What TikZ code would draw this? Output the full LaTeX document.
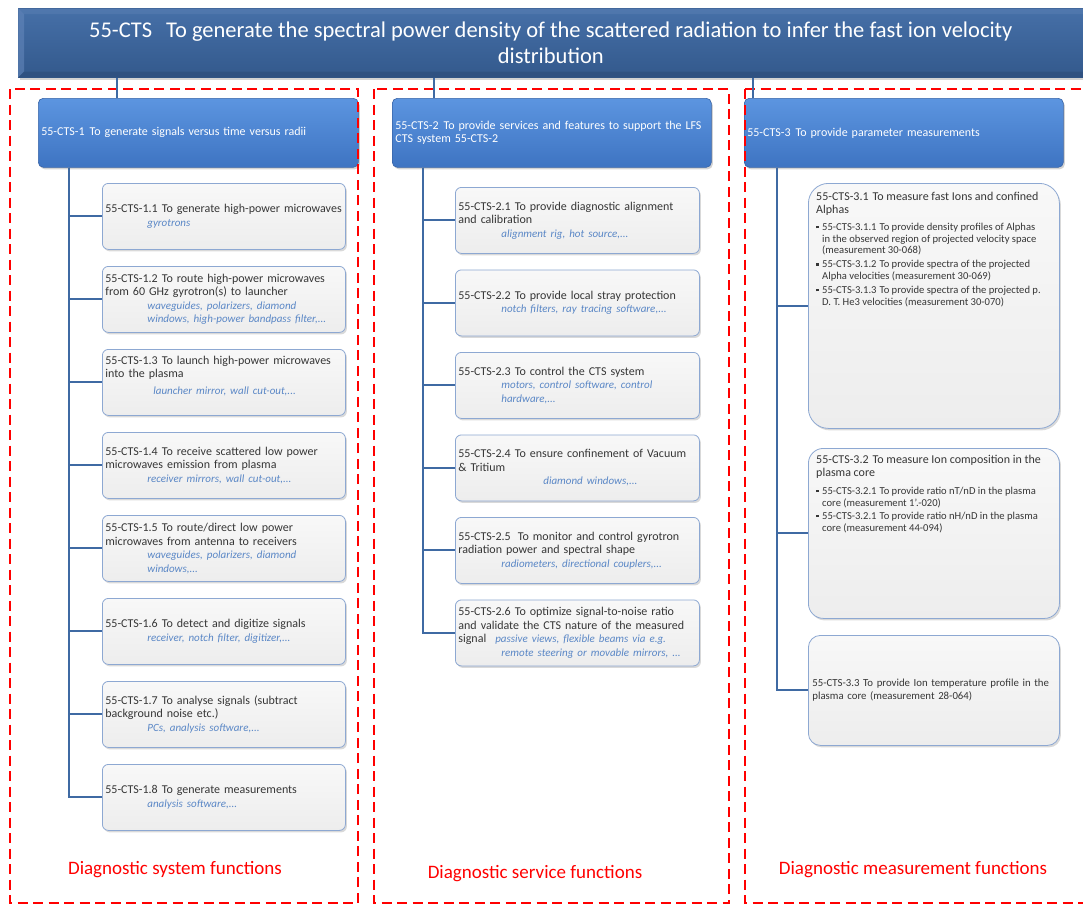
\documentclass[tikz,border=0pt]{standalone}
\usepackage{fontspec}
\setmainfont{Carlito}
\usetikzlibrary{shadows}

\definecolor{hdrtop}{HTML}{4670A8}
\definecolor{hdrbot}{HTML}{33598C}
\definecolor{bevlight}{HTML}{6386BA}
\definecolor{bevdark}{HTML}{2C4A76}
\definecolor{lvtop}{HTML}{5C95E0}
\definecolor{lvbot}{HTML}{3E74C2}
\definecolor{lvedge}{HTML}{3763A6}
\definecolor{chedge}{HTML}{8DA8D2}
\definecolor{chtop}{HTML}{F8F8F8}
\definecolor{chbot}{HTML}{EDEDED}
\definecolor{bodytxt}{HTML}{363636}
\definecolor{itblue}{HTML}{5A87C6}
\definecolor{linkblue}{HTML}{3F6AA3}
\definecolor{zonered}{HTML}{FF0000}

% equipment examples, set in blue italics
\newcommand\equip[1]{{\color{itblue}\fontsize{11}{13.5}\selectfont\itshape #1}}
\newcommand\sqb{\makebox[6pt][l]{\raisebox{2pt}{\rule{2.5pt}{2.5pt}}}}
\newcommand\hang{\hspace*{6pt}}

\tikzset{
  header/.style={draw=hdrbot, line width=0.6pt, top color=hdrtop, bottom color=hdrbot,
    drop shadow={opacity=0.35, shadow xshift=2pt, shadow yshift=-2.5pt},
    text=white, align=center, font=\fontsize{22.5}{26}\selectfont, inner sep=0pt},
  lvone/.style={draw=lvedge, line width=0.6pt, top color=lvtop, bottom color=lvbot,
    rounded corners=5pt, drop shadow={opacity=0.35, shadow xshift=1.5pt, shadow yshift=-2pt},
    text=white, align=left, font=\fontsize{12}{13.5}\selectfont,
    minimum height=69pt, inner xsep=3pt, anchor=north west},
  childbox/.style={draw=chedge, line width=0.8pt, top color=chtop, bottom color=chbot,
    rounded corners=6pt, drop shadow={opacity=0.3, shadow xshift=1.5pt, shadow yshift=-2pt},
    text=bodytxt, align=left, font=\fontsize{12}{13.5}\selectfont,
    minimum height=66pt, inner xsep=3pt, anchor=north west},
  colone/.style={childbox, text width=237pt, minimum width=243pt},
  coltwo/.style={childbox, text width=238pt, minimum width=244pt},
  colthree/.style={childbox, text width=243pt, minimum width=251pt},
  blocktext/.style={text=bodytxt, inner sep=0pt, anchor=north west},
  conn/.style={draw=linkblue, line width=2pt},
  zone/.style={draw=zonered, line width=2.6pt, dash pattern=on 10pt off 5.5pt},
  zonelabel/.style={text=zonered, font=\fontsize{19}{22}\selectfont}
}

\begin{document}
\begin{tikzpicture}[x=1pt, y=-1pt]
\useasboundingbox (0,0) rectangle (1083,903);

% ---------- top-level function ----------
\node[header, minimum width=1065pt, minimum height=69pt, anchor=north west] (root) at (18,8)
  {\parbox{1040pt}{\centering 55-CTS\hspace{14pt}To generate the spectral power density of the scattered radiation to infer the fast ion velocity\\ distribution}};
\fill[bevlight, opacity=0.6] (root.north west) -- (root.south west) -- ([shift={(6pt,6pt)}]root.south west)
  -- ([shift={(6pt,-6pt)}]root.north west) -- cycle;
\fill[bevlight, opacity=0.35] (root.north west) -- (root.north east) -- ([shift={(0pt,-6pt)}]root.north east)
  -- ([shift={(6pt,-6pt)}]root.north west) -- cycle;
\fill[bevdark, opacity=0.5] (root.south west) -- (root.south east) -- ([shift={(0pt,6pt)}]root.south east)
  -- ([shift={(6pt,6pt)}]root.south west) -- cycle;

% ---------- second level ----------
\node[lvone, minimum width=320pt, text width=314pt] (l1) at (38,98)
  {55-CTS-1\hspace{5pt}To generate signals versus time versus radii};
\node[lvone, minimum width=319pt, text width=313pt] (l2) at (392,98)
  {55-CTS-2\hspace{5pt}To provide services and features to support the LFS\\CTS system 55-CTS-2};
\node[lvone, minimum width=319pt, text width=313pt] (l3) at (744,98)
  {55-CTS-3\hspace{5pt}To provide parameter measurements};

% ---------- diagnostic system functions ----------
\node[colone] (c11) at (102,183) {55-CTS-1.1 To generate high-power microwaves\\
  \hspace*{42pt}\equip{gyrotrons}};
\node[colone] (c12) at (102,266) {55-CTS-1.2\hspace{4pt}To route high-power microwaves\\
  from 60 GHz gyrotron(s) to launcher\\
  \hspace*{42pt}\equip{waveguides, polarizers, diamond}\\
  \hspace*{42pt}\equip{windows, high-power bandpass filter,...}};
\node[colone] (c13) at (102,349) {55-CTS-1.3\hspace{4pt}To launch high-power microwaves\\
  into the plasma\\[3pt]
  \hspace*{48pt}\equip{launcher mirror, wall cut-out,...}\\[1pt]\mbox{}};
\node[colone] (c14) at (102,432) {55-CTS-1.4\hspace{4pt}To receive scattered low power\\
  microwaves emission from plasma\\
  \hspace*{42pt}\equip{receiver mirrors, wall cut-out,...}};
\node[colone] (c15) at (102,515) {55-CTS-1.5\hspace{4pt}To route/direct low power\\
  microwaves from antenna to receivers\\
  \hspace*{42pt}\equip{waveguides, polarizers, diamond}\\
  \hspace*{42pt}\equip{windows,...}};
\node[colone] (c16) at (102,598) {55-CTS-1.6\hspace{4pt}To detect and digitize signals\\
  \hspace*{42pt}\equip{receiver, notch filter, digitizer,...}};
\node[colone] (c17) at (102,681) {55-CTS-1.7\hspace{4pt}To analyse signals (subtract\\
  background noise etc.)\\
  \hspace*{42pt}\equip{PCs, analysis software,...}};
\node[colone] (c18) at (102,764) {55-CTS-1.8\hspace{4pt}To generate measurements\\
  \hspace*{42pt}\equip{analysis software,...}};

% ---------- diagnostic service functions ----------
\node[coltwo] (c21) at (455,187) {55-CTS-2.1\hspace{4pt}To provide diagnostic alignment\\
  and calibration\\
  \hspace*{43pt}\equip{alignment rig, hot source,...}};
\node[coltwo] (c22) at (455,269.5) {55-CTS-2.2\hspace{4pt}To provide local stray protection\\
  \hspace*{43pt}\equip{notch filters, ray tracing software,...}};
\node[coltwo] (c23) at (455,352) {55-CTS-2.3\hspace{4pt}To control the CTS system\\
  \hspace*{43pt}\equip{motors, control software, control}\\
  \hspace*{43pt}\equip{hardware,...}};
\node[coltwo] (c24) at (455,434.5) {55-CTS-2.4\hspace{4pt}To ensure confinement of Vacuum\\
  \& Tritium\\
  \hspace*{85pt}\equip{diamond windows,...}};
\node[coltwo] (c25) at (455,517) {55-CTS-2.5\hspace{7pt}To monitor and control gyrotron\\
  radiation power and spectral shape\\
  \hspace*{43pt}\equip{radiometers, directional couplers,...}};
\node[coltwo] (c26) at (455,599.5) {55-CTS-2.6\hspace{4pt}To optimize signal-to-noise ratio\\
  and validate the CTS nature of the measured\\
  signal\hspace{9pt}\equip{passive views, flexible beams via e.g.}\\
  \hspace*{43pt}\equip{remote steering or movable mirrors, ...}};

% ---------- diagnostic measurement functions ----------
\node[colthree, rounded corners=20pt, minimum height=245pt] (c31) at (808,183) {};
\node[blocktext] (t31) at (816,192) {\parbox[t]{243pt}{\raggedright
  \fontsize{12}{13}\selectfont 55-CTS-3.1\hspace{4pt}To measure fast Ions and confined\\
  Alphas\par\vspace{5pt}
  \fontsize{10.6}{11.8}\selectfont
  \sqb 55-CTS-3.1.1\hspace{3pt}To provide density profiles of Alphas\\
  \hang in the observed region of projected velocity space\\
  \hang (measurement 30-068)\\[2pt]
  \sqb 55-CTS-3.1.2\hspace{3pt}To provide spectra of the projected\\
  \hang Alpha velocities (measurement 30-069)\\[2pt]
  \sqb 55-CTS-3.1.3\hspace{3pt}To provide spectra of the projected p.\\
  \hang D. T. He3 velocities (measurement 30-070)\par}};
\node[colthree, rounded corners=15pt, minimum height=170pt] (c32) at (808,448) {};
\node[blocktext] (t32) at (816,455) {\parbox[t]{243pt}{\raggedright
  \fontsize{12}{13}\selectfont 55-CTS-3.2\hspace{4pt}To measure Ion composition in the\\
  plasma core\par\vspace{5pt}
  \fontsize{10.6}{12.5}\selectfont
  \sqb 55-CTS-3.2.1\hspace{3pt}To provide ratio nT/nD in the plasma\\
  \hang core (measurement 1’.-020)\\
  \sqb 55-CTS-3.2.1\hspace{3pt}To provide ratio nH/nD in the plasma\\
  \hang core (measurement 44-094)\par}};
\node[colthree, rounded corners=12pt, minimum height=110pt, font=\fontsize{10.8}{13}\selectfont] (c33) at (808,635)
  {55-CTS-3.3 To provide Ion temperature profile in the\\
   plasma core (measurement 28-064)};

% ---------- grouping frames ----------
\draw[zone] (10,89) rectangle (358,903);
\draw[zone] (374,89) rectangle (729,903);
\draw[zone] (745,89) -- (1090,89);
\draw[zone] (745,89) -- (745,903) -- (1090,903);

\node[zonelabel] (g1) at (175,870) {Diagnostic system functions};
\node[zonelabel] (g2) at (535,874) {Diagnostic service functions};
\node[zonelabel] (g3) at (913,870) {Diagnostic measurement functions};

% ---------- connectors ----------
\coordinate (r1) at ([xshift=79pt]l1.north west);
\coordinate (r2) at ([xshift=42pt]l2.north west);
\coordinate (r3) at ([xshift=9pt]l3.north west);
\foreach \r in {r1,r2,r3} \draw[conn, line width=2.6pt] (\r) -- (\r |- root.south);

\coordinate (k1) at ([xshift=31pt]l1.south west);
\coordinate (k2) at ([xshift=31pt]l2.south west);
\coordinate (k3) at ([xshift=33pt]l3.south west);
\foreach \c in {c11,c12,c13,c14,c15,c16,c17,c18} \draw[conn] (k1) |- (\c.west);
\foreach \c in {c21,c22,c23,c24,c25,c26} \draw[conn] (k2) |- (\c.west);
\foreach \c in {c31,c32,c33} \draw[conn] (k3) |- (\c.west);
\end{tikzpicture}
\end{document}
